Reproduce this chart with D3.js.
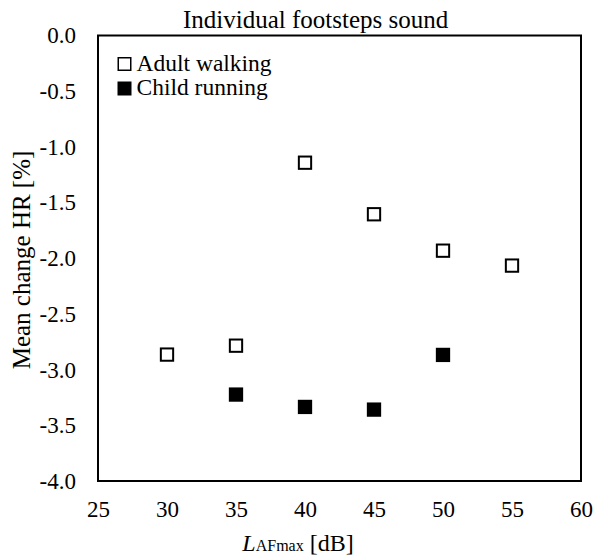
<!DOCTYPE html>
<html>
<head>
<meta charset="utf-8">
<script src="https://cdn.jsdelivr.net/npm/d3@7"></script>
<style>
  body { margin: 0; background: #fff; }
  svg text { font-family: "Liberation Serif", "Times New Roman", serif; fill: #000; }
</style>
</head>
<body>
<svg id="chart" width="598" height="560"></svg>
<script>
// ── Data ─────────────────────────────────────────────
const adultX = [30, 35, 40, 45, 50, 55];
const adultY = [-2.865, -2.785, -1.142, -1.605, -1.932, -2.066];
const childX = [35, 40, 45, 50];
const childY = [-3.224, -3.335, -3.359, -2.868];
const xTicks = [25, 30, 35, 40, 45, 50, 55, 60];
const yTicks = [0, -0.5, -1, -1.5, -2, -2.5, -3, -3.5, -4];

const margin = { top: 35.5, right: 17, bottom: 79, left: 98 };
const W = 598, H = 560;

const svg = d3.select('#chart');

const x = d3.scaleLinear().domain([25, 60]).range([margin.left, W - margin.right]);
const y = d3.scaleLinear().domain([-4, 0]).range([H - margin.bottom, margin.top]);

// plain hyphen for negatives, like the original
const fmtY = d => d.toFixed(1);

// ── Axes (labels only, no tick marks) ─────────────────
const xAxis = svg.append('g')
  .attr('transform', `translate(0,${H - margin.bottom})`)
  .call(d3.axisBottom(x).tickValues(xTicks).tickSize(0).tickPadding(20).tickFormat(d3.format('d')));
xAxis.select('.domain').remove();
xAxis.selectAll('text').style('font-size', '23px').attr('dy', '0.71em').style('font-family', null);

const yAxis = svg.append('g')
  .attr('transform', `translate(${margin.left},0)`)
  .call(d3.axisLeft(y).tickValues(yTicks).tickSize(0).tickPadding(22).tickFormat(fmtY));
yAxis.select('.domain').remove();
yAxis.selectAll('text').style('font-size', '23px').style('font-family', null);

// Plot frame
svg.append('rect')
  .attr('x', x(25)).attr('y', y(0))
  .attr('width', x(60) - x(25)).attr('height', y(-4) - y(0))
  .attr('fill', 'none').attr('stroke', '#000').attr('stroke-width', 2);

// ── Markers ──────────────────────────────────────────
const S = 12.3;
svg.append('g').selectAll('rect')
  .data(adultX.map((d, i) => [d, adultY[i]]))
  .join('rect')
  .attr('x', d => x(d[0]) - S / 2).attr('y', d => y(d[1]) - S / 2)
  .attr('width', S).attr('height', S)
  .attr('fill', '#fff').attr('stroke', '#000').attr('stroke-width', 2);

svg.append('g').selectAll('rect')
  .data(childX.map((d, i) => [d, childY[i]]))
  .join('rect')
  .attr('x', d => x(d[0]) - S / 2).attr('y', d => y(d[1]) - S / 2)
  .attr('width', S).attr('height', S)
  .attr('fill', '#000').attr('stroke', '#000').attr('stroke-width', 2);

// ── Legend ───────────────────────────────────────────
const legend = [
  { label: 'Adult walking', fill: '#fff' },
  { label: 'Child running', fill: '#000' },
];
const lg = svg.append('g').attr('transform', 'translate(117.5,57)');
legend.forEach((l, i) => {
  lg.append('rect')
    .attr('x', 0.75).attr('y', i * 24.5 + 0.75)
    .attr('width', 12.5).attr('height', 12.5)
    .attr('fill', l.fill).attr('stroke', '#000').attr('stroke-width', 1.5);
  lg.append('text')
    .attr('x', 19).attr('y', i * 23.5 + 14)
    .style('font-size', '23.5px')
    .text(l.label);
});

// ── Titles ───────────────────────────────────────────
svg.append('text')
  .attr('x', 183).attr('y', 28)
  .style('font-size', '25px')
  .text('Individual footsteps sound');

svg.append('text')
  .attr('transform', `translate(30,260) rotate(-90)`)
  .attr('text-anchor', 'middle')
  .style('font-size', '25px')
  .text('Mean change HR [%]');

const xl = svg.append('text')
  .attr('x', 298).attr('y', 551)
  .attr('text-anchor', 'middle')
  .style('font-size', '24px');
xl.append('tspan').style('font-style', 'italic').text('L');
xl.append('tspan').style('font-size', '16px').text('AFmax');
xl.append('tspan').text(' [dB]');
</script>
</body>
</html>
